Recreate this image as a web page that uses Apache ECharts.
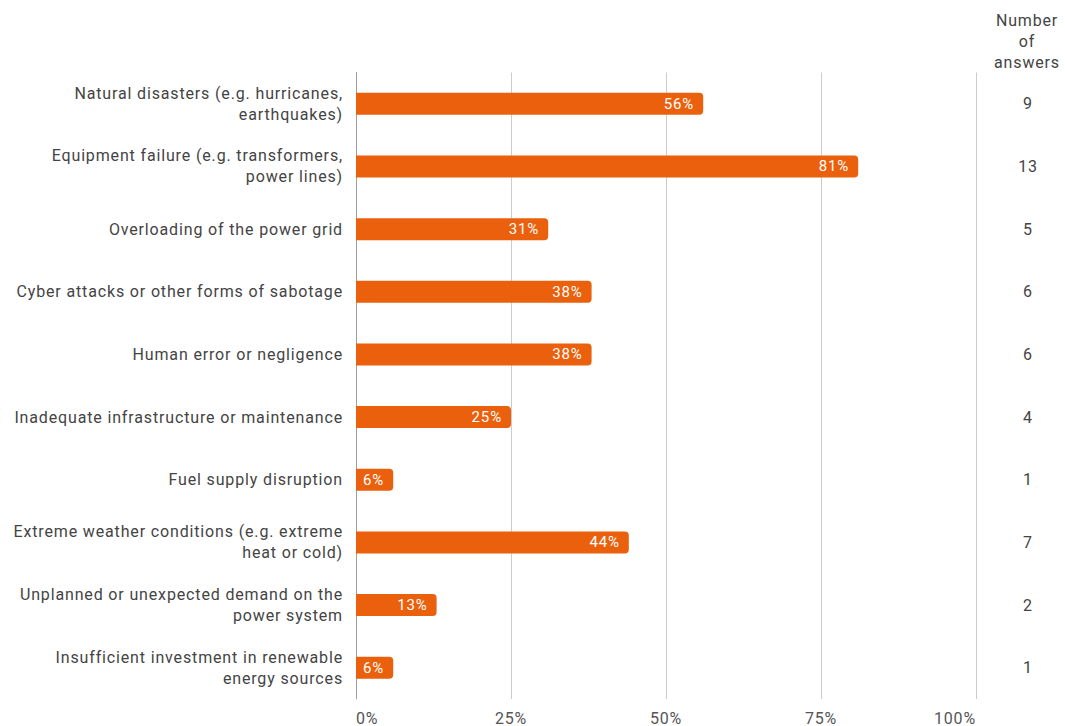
<!DOCTYPE html>
<html>
<head>
<meta charset="utf-8">
<script src="https://cdn.jsdelivr.net/npm/echarts@6/dist/echarts.min.js"></script>
<style>
  html, body { margin: 0; padding: 0; background: #fff; }
  #chart { width: 1065px; height: 726px; }
  #chart text { letter-spacing: 0.85px; }
</style>
</head>
<body>
<div id="chart"></div>
<script>
// Causes of power outages: share of respondents and number of answers
const categories = [
  'Natural disasters (e.g. hurricanes,\nearthquakes)',
  'Equipment failure (e.g. transformers,\npower lines)',
  'Overloading of the power grid',
  'Cyber attacks or other forms of sabotage',
  'Human error or negligence',
  'Inadequate infrastructure or maintenance',
  'Fuel supply disruption',
  'Extreme weather conditions (e.g. extreme\nheat or cold)',
  'Unplanned or unexpected demand on the\npower system',
  'Insufficient investment in renewable\nenergy sources'
];
const shares = [56, 81, 31, 38, 38, 25, 6, 44, 13, 6];
const answerCounts = [9, 13, 5, 6, 6, 4, 1, 7, 2, 1];
const xTicks = [0, 25, 50, 75, 100];
const countHeader = 'Number\nof\nanswers';

const FONT = 'Roboto, "Noto Sans", sans-serif';
const TEXT = '#444444';
const chart = echarts.init(document.getElementById('chart'), null, { renderer: 'svg' });

chart.setOption({
  backgroundColor: '#ffffff',
  animation: false,
  textStyle: { fontFamily: FONT },
  grid: { left: 356, right: 89, top: 72.5, bottom: 25.5, containLabel: false },
  xAxis: {
    type: 'value',
    min: xTicks[0],
    max: xTicks[xTicks.length - 1],
    interval: 25,
    axisLine: { show: false },
    axisTick: { show: false },
    splitLine: { show: true, lineStyle: { color: '#cccccc', width: 1 } },
    axisLabel: {
      formatter: '{value}%',
      color: '#555555',
      fontSize: 16,
      fontFamily: FONT,
      margin: 11,
      alignMinLabel: 'left',
      alignMaxLabel: 'right'
    }
  },
  yAxis: [
    {
      type: 'category',
      data: categories,
      inverse: true,
      axisLine: { show: true, lineStyle: { color: '#9e9e9e', width: 1 } },
      axisTick: { show: false },
      axisLabel: {
        color: TEXT,
        fontSize: 16,
        lineHeight: 21,
        fontFamily: FONT,
        margin: 13,
        align: 'right'
      }
    },
    {
      type: 'category',
      data: answerCounts,
      inverse: true,
      position: 'right',
      axisLine: { show: false },
      axisTick: { show: false },
      axisLabel: {
        color: TEXT,
        fontSize: 16,
        fontFamily: FONT,
        align: 'center',
        margin: 52
      }
    }
  ],
  graphic: [
    {
      type: 'text',
      x: 1027,
      y: 9.5,
      style: {
        text: countHeader,
        align: 'center',
        verticalAlign: 'top',
        fill: TEXT,
        fontSize: 16,
        lineHeight: 21,
        fontFamily: FONT
      }
    }
  ],
  series: [
    {
      type: 'bar',
      data: shares,
      barWidth: 22,
      itemStyle: { color: '#ea600c', borderRadius: [0, 4, 4, 0] },
      label: {
        show: true,
        position: 'insideRight',
        distance: 9,
        formatter: '{c}%',
        color: '#ffffff',
        fontSize: 15,
        fontFamily: FONT
      }
    }
  ]
});
</script>
</body>
</html>
